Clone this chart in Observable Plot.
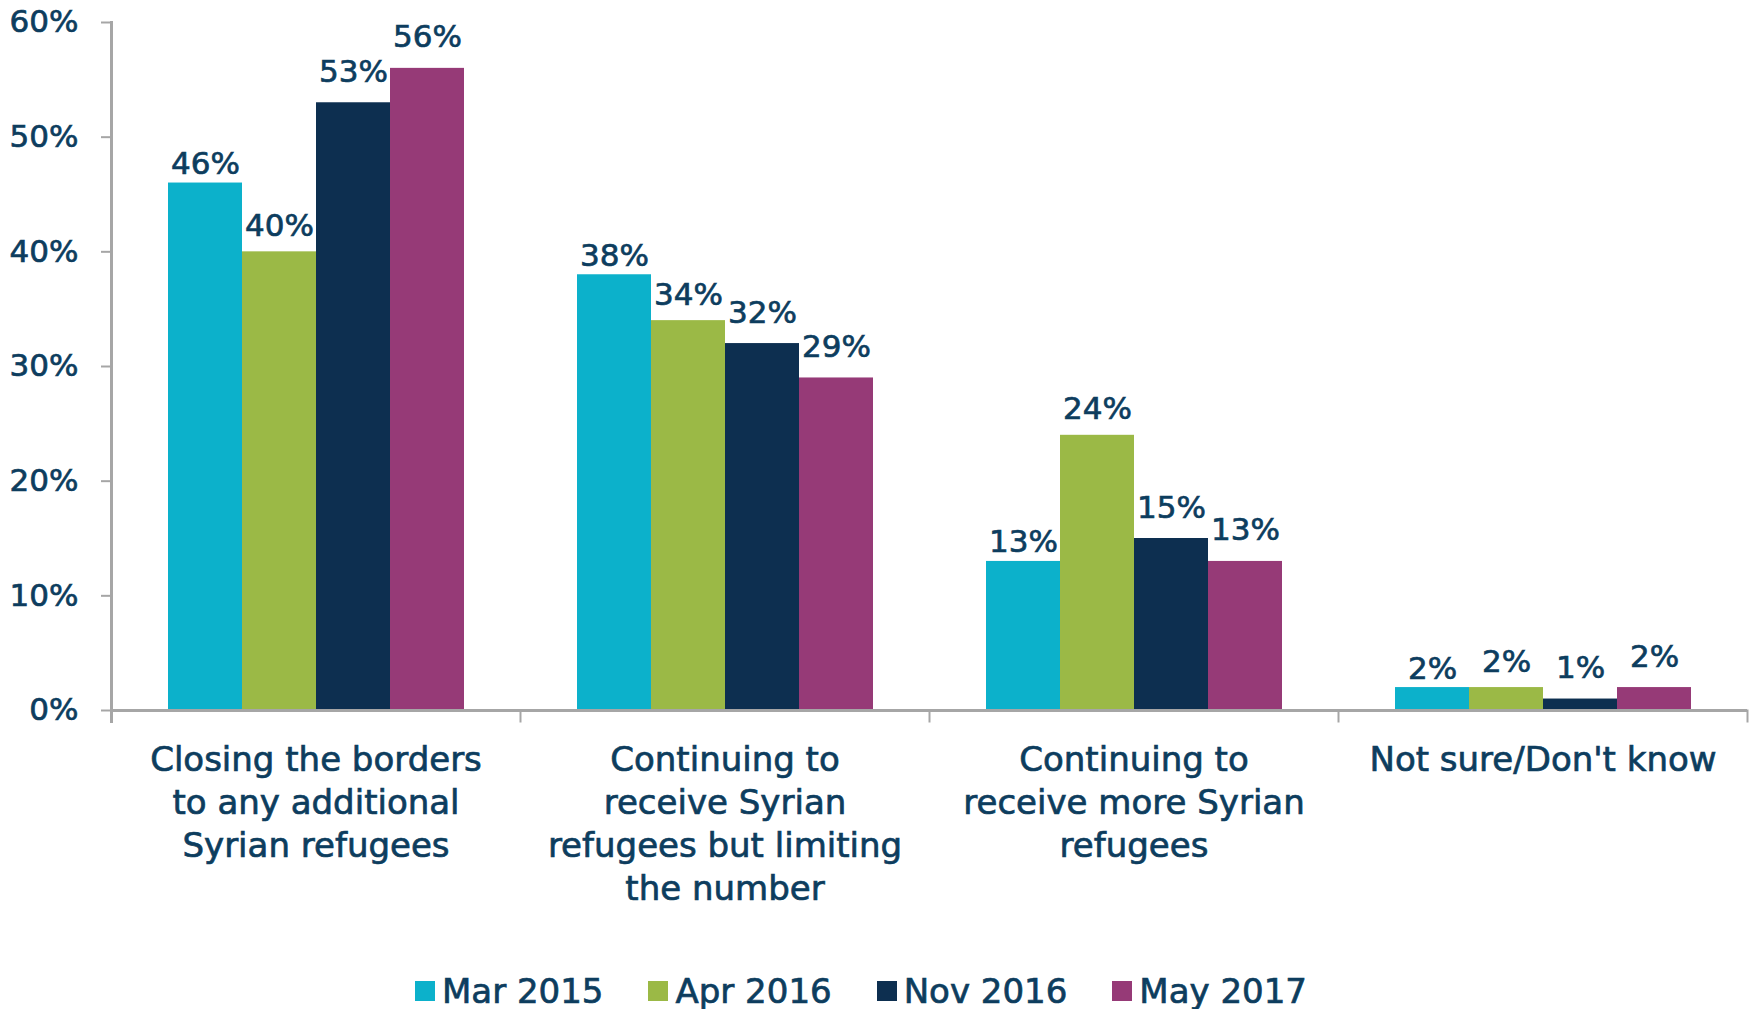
<!DOCTYPE html>
<html>
<head>
<meta charset="utf-8">
<script src="https://cdn.jsdelivr.net/npm/d3@7"></script>
<script src="https://cdn.jsdelivr.net/npm/@observablehq/plot@0.6"></script>
<style>
  body { margin: 0; background: #fff; }
  #chart { width: 1756px; }
  #chart svg { display: block; }
  /* slightly heavier lettering for every chart text */
  #chart svg text { stroke: #0d3d5e; stroke-width: 0.7px; }
  .legend {
    height: 74px;
    box-sizing: border-box;
    padding-top: 38px;
    padding-left: 415px;
    display: flex;
    align-items: center;
    font-family: "DejaVu Sans", sans-serif;
    font-size: 34px;
    line-height: 34px;
    color: #0d3d5e;
    -webkit-text-stroke: 0.7px #0d3d5e;
  }
  .legend .item { display: flex; align-items: center; margin-right: 45px; }
  .legend .swatch { width: 20px; height: 20px; margin-right: 7px; }
</style>
</head>
<body>
<div id="chart"></div>
<script>
// Survey answers (x categories) and their wrapped tick labels
const categories = [
  "Closing the borders to any additional Syrian refugees",
  "Continuing to receive Syrian refugees but limiting the number",
  "Continuing to receive more Syrian refugees",
  "Not sure/Don't know"
];
const categoryLabels = [
  "Closing the borders\nto any additional\nSyrian refugees",
  "Continuing to\nreceive Syrian\nrefugees but limiting\nthe number",
  "Continuing to\nreceive more Syrian\nrefugees",
  "Not sure/Don't know"
];

// Survey waves
const series = ["Mar 2015", "Apr 2016", "Nov 2016", "May 2017"];

// Percent of respondents, one array per wave, in category order
const mar2015 = [46, 38, 13, 2];
const apr2016 = [40, 34, 24, 2];
const nov2016 = [53, 32, 15, 1];
const may2017 = [56, 29, 13, 2];

const yTicks = [0, 10, 20, 30, 40, 50, 60];

const seriesColors = ["#0cb1cb", "#9bb946", "#0d2f50", "#963a77"];
// gap (px) between each wave's value labels and its bar tops
const labelGap = [9, 16, 21, 21];
const textColor = "#0d3d5e";
const axisGray = "#a6a6a6";

// Long table built from the arrays above
const waves = [mar2015, apr2016, nov2016, may2017];
const rows = [];
categories.forEach((category, i) => {
  series.forEach((s, j) => {
    rows.push({category, series: s, value: waves[j][i]});
  });
});

const height = 935;
const marginTop = 22;
const marginBottom = 225;
const innerHeight = height - marginTop - marginBottom;

const valueLabels = series.map((s, j) =>
  Plot.text(rows.filter(d => d.series === s), {
    fx: "category",
    x: "series",
    y: "value",
    text: d => `${d.value}%`,
    lineAnchor: "bottom",
    dy: -labelGap[j],
    fontSize: 31,
    fill: textColor
  })
);

const chart = Plot.plot({
  width: 1756,
  height,
  marginTop,
  marginBottom,
  marginLeft: 110,
  marginRight: 9,
  style: {
    fontFamily: "'DejaVu Sans', sans-serif",
    color: textColor,
    background: "#fff",
    overflow: "visible"
  },
  fx: {domain: categories, padding: 0},
  x: {domain: series, paddingInner: 0, paddingOuter: 0.754, axis: null},
  y: {domain: [0, 60]},
  color: {domain: series, range: seriesColors},
  marks: [
    Plot.barY(rows, {
      fx: "category",
      x: "series",
      y: "value",
      fill: "series"
    }),
    ...valueLabels,
    // baseline across every category band
    Plot.ruleY([0], {stroke: axisGray, strokeWidth: 3}),
    // vertical value axis line, running just past the baseline
    Plot.frame({anchor: "left", facetAnchor: "left", insetBottom: -11, stroke: axisGray, strokeWidth: 3}),
    // short ticks at the category boundaries
    Plot.frame({anchor: "left", insetTop: innerHeight, insetBottom: -11, stroke: axisGray, strokeWidth: 2}),
    Plot.frame({anchor: "right", facetAnchor: "right", insetTop: innerHeight, insetBottom: -11, stroke: axisGray, strokeWidth: 2}),
    Plot.axisY({
      ticks: yTicks,
      tickFormat: d => `${d}%`,
      tickSize: 10,
      tickPadding: 23,
      stroke: axisGray,
      strokeWidth: 2,
      fill: textColor,
      fontSize: 31,
      label: null
    }),
    Plot.axisFx({
      anchor: "bottom",
      tickSize: 0,
      tickPadding: 30,
      tickFormat: d => categoryLabels[categories.indexOf(d)],
      lineHeight: 1.265,
      fontSize: 34,
      fill: textColor,
      label: null
    })
  ]
});

const root = document.getElementById("chart");
root.appendChild(chart);

// Legend under the chart
const legend = document.createElement("div");
legend.className = "legend";
series.forEach((s, j) => {
  const item = document.createElement("div");
  item.className = "item";
  const sw = document.createElement("span");
  sw.className = "swatch";
  sw.style.background = seriesColors[j];
  const label = document.createElement("span");
  label.textContent = s;
  item.appendChild(sw);
  item.appendChild(label);
  legend.appendChild(item);
});
root.appendChild(legend);
</script>
</body>
</html>
